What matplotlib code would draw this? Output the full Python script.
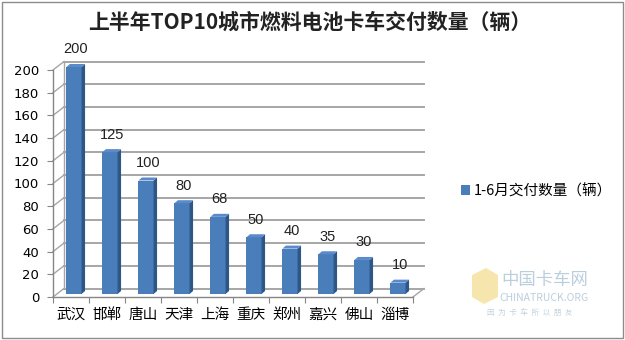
import matplotlib
matplotlib.use("Agg")
import matplotlib.pyplot as plt
from matplotlib.patches import Rectangle, Polygon, Patch

plt.rcParams['font.family'] = ['Noto Sans CJK SC', 'DejaVu Sans']

# data
cities = ['武汉', '邯郸', '唐山', '天津', '上海', '重庆', '郑州', '嘉兴', '佛山', '淄博']
counts = [200, 125, 100, 80, 68, 50, 40, 35, 30, 10]
yticks = list(range(0, 201, 20))
title = '上半年TOP10城市燃料电池卡车交付数量（辆）'
series_name = '1-6月交付数量（辆）'

W, H = 625, 340
fig = plt.figure(figsize=(W / 100, H / 100), dpi=100)
fig.patch.set_facecolor('white')

# front plane of the 3d box, in pixels
left, right, bottom, top = 53, 413, 297, 70
ax = fig.add_axes([left / W, 1 - bottom / H, (right - left) / W, (bottom - top) / H])
ax.set_xlim(0, len(cities))
ax.set_ylim(0, 200)
ax.set_facecolor('none')

# pixel -> data units
px = len(cities) / (right - left)
py = 200 / (bottom - top)

# wall depth offset (px)
wdx, wdy = 11, 8.5
grid_c = '#a6a6a6'
axis_c = '#868686'

# back wall gridlines + side wall diagonals
for y in yticks:
    ax.plot([wdx * px, len(cities) + wdx * px], [y + wdy * py] * 2,
            color=grid_c, lw=1.4, clip_on=False, zorder=1)
    ax.plot([0, wdx * px], [y, y + wdy * py], color=grid_c, lw=1.0,
            clip_on=False, zorder=1)
ax.plot([wdx * px] * 2, [wdy * py, 200 + wdy * py], color=grid_c, lw=1.0,
        clip_on=False, zorder=1)
ax.plot([len(cities), len(cities) + wdx * px], [0, wdy * py], color=grid_c,
        lw=1.0, clip_on=False, zorder=1)

# bars
bw = 0.42
bx, by = 3, 3        # bar offset into the box
dx, dy = 3.5 * px, 3 * py  # bar depth
front_c, side_c, top_c = '#4A7EBB', '#2E5687', '#5A8ACB'
for i, v in enumerate(counts):
    x0 = i + 0.5 - bw / 2 + bx * px
    x1 = x0 + bw
    y0 = by * py
    y1 = y0 + v
    ax.add_patch(Rectangle((x0, y0), bw, v, fc=front_c, ec='none',
                           clip_on=False, zorder=3))
    ax.add_patch(Polygon([(x1, y0), (x1 + dx, y0 + dy), (x1 + dx, y1 + dy), (x1, y1)],
                         fc=side_c, ec='none', clip_on=False, zorder=3))
    ax.add_patch(Polygon([(x0, y1), (x1, y1), (x1 + dx, y1 + dy), (x0 + dx, y1 + dy)],
                         fc=top_c, ec='none', clip_on=False, zorder=3))
    ax.annotate(str(v), (x0 + bw / 2 + dx / 2, y1 + dy), xytext=(0, 10.5),
                textcoords='offset points', ha='center', va='center',
                fontsize=10.5, family='Liberation Sans', color='#222222',
                annotation_clip=False)

# axes
for s in ['top', 'right']:
    ax.spines[s].set_visible(False)
for s in ['left', 'bottom']:
    ax.spines[s].set_color(axis_c)
    ax.spines[s].set_linewidth(1.0)
ax.set_yticks(yticks)
ax.set_yticklabels([str(t) for t in yticks], family='DejaVu Sans', fontsize=9.5)
ax.set_xticks(range(len(cities) + 1))
ax.set_xticklabels([])
ax.set_xticks([i + 0.5 for i in range(len(cities))], minor=True)
ax.set_xticklabels(cities, minor=True, fontsize=10.5)
ax.tick_params(axis='x', which='minor', length=0, pad=8)
ax.tick_params(axis='both', which='major', length=4, color=axis_c, colors='black')
ax.tick_params(axis='y', pad=6)

# title
fig.text(310 / W, 1 - 22 / H, title, ha='center', va='center', fontsize=15,
         color='#222222', fontweight='bold')

# legend
fig.legend(handles=[Patch(fc=front_c, ec='none')], labels=[series_name],
           loc='center left', bbox_to_anchor=(455 / W, 1 - 191 / H),
           frameon=False, fontsize=10.5, handlelength=0.6, handleheight=0.6,
           handletextpad=0.3, borderaxespad=0)

# watermark
fig.text(545 / W, 1 - 280 / H, '中国卡车网', ha='center', va='center',
         fontsize=12.5, color='#a9c2d4', alpha=0.8)
fig.text(544 / W, 1 - 298 / H, 'CHINATRUCK.ORG', ha='center', va='center',
         fontsize=7.5, color='#a9c2d4', alpha=0.8)
fig.text(530 / W, 1 - 313 / H, '因  为  卡  车  所  以  朋  友', ha='center', va='center',
         fontsize=5.5, color='#b5c7d4', alpha=0.8)
fig.patches.append(Polygon([(472 / W, 1 - 275 / H), (486 / W, 1 - 268 / H),
                            (498 / W, 1 - 275 / H), (498 / W, 1 - 297 / H),
                            (484 / W, 1 - 304 / H), (472 / W, 1 - 297 / H)],
                           closed=True, transform=fig.transFigure,
                           fc='#f3dc8a', ec='none', alpha=0.7))

# border
fig.patches.append(Rectangle((2 / W, 2 / H), (W - 4) / W, (H - 4) / H,
                             transform=fig.transFigure, fill=False,
                             ec='#8c8c8c', lw=1.0))

fig.savefig('out.png', dpi=100, facecolor='white')
